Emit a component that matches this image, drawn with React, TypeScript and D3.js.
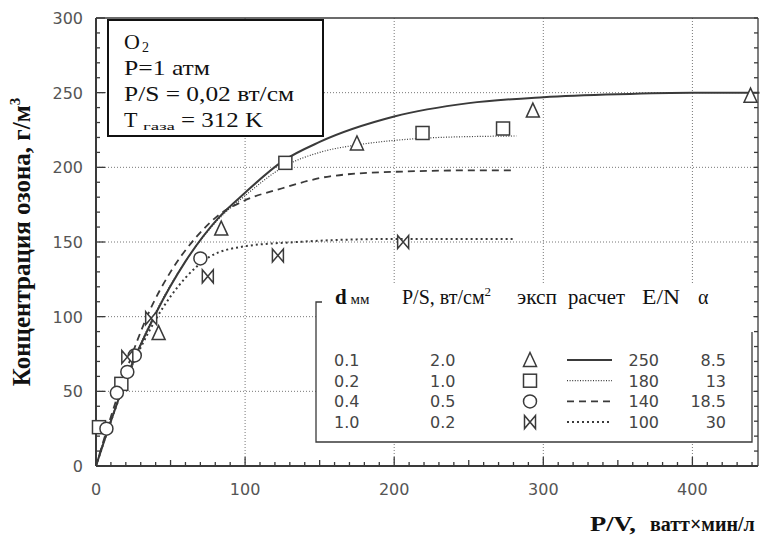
import React from "react";
import * as d3 from "d3";

// values
const xTicks = [0, 100, 200, 300, 400];
const yTicks = [0, 50, 100, 150, 200, 250, 300];
const gridX = [100, 200, 300, 400];
const gridY = [50, 100, 150, 200, 250];

// calculated curves, [P/V, concentration]
const curveD01 = [[0, 0], [10, 30], [20, 58], [40, 102], [60, 137], [82, 166], [100, 183], [125, 204], [150, 217], [200, 234], [250, 243], [300, 247], [350, 249], [400, 250], [445, 250]];
const curveD02 = [[0, 0], [10, 31], [20, 58], [40, 103], [60, 137], [80, 163], [100, 181], [127, 201], [150, 210], [175, 215], [200, 218], [230, 220], [282, 221]];
const curveD04 = [[0, 0], [10, 33], [20, 63], [36, 104], [50, 130], [67, 153], [81, 167], [98, 177], [125, 186], [157, 194], [200, 197], [258, 198], [280, 198]];
const curveD10 = [[0, 0], [10, 30], [20, 57], [40, 98], [60, 126], [76, 140], [99, 147], [135, 150], [197, 152], [280, 152]];

// experimental points
const triangles = [[42, 89], [84, 159], [175, 216], [293, 238], [439, 248]];
const squares = [[2, 26], [17, 55], [127, 203], [219, 223], [273, 226]];
const circles = [[7, 25], [14, 49], [21, 63], [26, 74], [70, 139]];
const bowties = [[21, 73], [37, 99], [75, 127], [122, 141], [206, 150]];

// legend table
const legendD = ["0.1", "0.2", "0.4", "1.0"];
const legendPS = ["2.0", "1.0", "0.5", "0.2"];
const legendEN = ["250", "180", "140", "100"];
const legendAlpha = ["8.5", "13", "18.5", "30"];
const legendMarks = ["triangle", "square", "circle", "bowtie"];

const ink = "#3a3a3a";
const serif = "'Liberation Serif', 'DejaVu Serif', serif";
const sans = "'DejaVu Sans', sans-serif";

const lineStyles = [
  { width: 2, dash: null },
  { width: 1.2, dash: "1,1.6" },
  { width: 1.8, dash: "7,5" },
  { width: 2, dash: "2,3" },
];

const Marker = ({ kind, cx, cy }) => {
  const s = 6.5;
  const common = { fill: "white", stroke: ink, strokeWidth: 1.5 };
  if (kind === "triangle")
    return <path d={`M${cx},${cy - s - 1}L${cx + s},${cy + s}L${cx - s},${cy + s}Z`} {...common} />;
  if (kind === "square")
    return <rect x={cx - s} y={cy - s} width={2 * s} height={2 * s} {...common} />;
  if (kind === "circle") return <circle cx={cx} cy={cy} r={s} {...common} />;
  return (
    <path
      d={`M${cx - s + 1},${cy - s}L${cx + s - 1},${cy + s}L${cx + s - 1},${cy - s}L${cx - s + 1},${cy + s}Z`}
      {...common}
    />
  );
};

export default function App() {
  const x = d3.scaleLinear().domain([0, 444]).range([96, 758]);
  const y = d3.scaleLinear().domain([0, 300]).range([466, 18]);

  const line = d3
    .line()
    .x((d) => x(d[0]))
    .y((d) => y(d[1]))
    .curve(d3.curveMonotoneX);

  const curves = [curveD01, curveD02, curveD04, curveD10];
  const points = [triangles, squares, circles, bowties];

  const minorX = d3.range(0, 450, 10);
  const minorY = d3.range(0, 301, 10);
  const tickLen = (v) => (v % 100 === 0 ? 9 : v % 50 === 0 ? 6 : 4);

  const rowY = (i) => 366 + i * 20.7;

  return (
    <svg width={760} height={544} style={{ position: "absolute", left: 0, top: 0, background: "white" }}>
      {/* grid */}
      <g stroke="#777" strokeWidth={1} strokeDasharray="1,2">
        {gridX.map((v) => (
          <line key={"gx" + v} x1={x(v)} x2={x(v)} y1={y(300)} y2={y(0)} />
        ))}
        {gridY.map((v) => (
          <line key={"gy" + v} x1={x(0)} x2={x(444)} y1={y(v)} y2={y(v)} />
        ))}
      </g>

      {/* frame and ticks */}
      <g stroke={ink} strokeWidth={1.3}>
        <line x1={x(0)} x2={x(444)} y1={y(0)} y2={y(0)} strokeWidth={2} />
        <line x1={x(0)} x2={x(0)} y1={y(0)} y2={y(300)} strokeWidth={2} />
        <line x1={x(0)} x2={x(444)} y1={y(300)} y2={y(300)} />
        <line x1={x(444)} x2={x(444)} y1={y(0)} y2={y(300)} />
        {minorX.map((v) => (
          <line key={"tx" + v} x1={x(v)} x2={x(v)} y1={y(0)} y2={y(0) - tickLen(v)} />
        ))}
        {minorY.map((v) => (
          <line key={"ty" + v} x1={x(0)} x2={x(0) + tickLen(v * 2)} y1={y(v)} y2={y(v)} />
        ))}
        {minorY.map((v) => (
          <line key={"tr" + v} x1={x(444)} x2={x(444) - 4} y1={y(v)} y2={y(v)} />
        ))}
      </g>

      {/* tick labels */}
      <g fontFamily={sans} fontSize={16} fill="#555">
        {xTicks.map((v) => (
          <text key={"lx" + v} x={x(v)} y={495} textAnchor="middle">
            {v}
          </text>
        ))}
        {yTicks.map((v) => (
          <text key={"ly" + v} x={83} y={y(v) + 6} textAnchor="end">
            {v}
          </text>
        ))}
      </g>

      {/* calculated curves */}
      {curves.map((c, i) => (
        <path
          key={"c" + i}
          d={line(c)}
          fill="none"
          stroke={ink}
          strokeWidth={lineStyles[i].width}
          strokeDasharray={lineStyles[i].dash || undefined}
        />
      ))}

      {/* experimental points */}
      {points.map((set, i) =>
        set.map((p, j) => <Marker key={`m${i}-${j}`} kind={legendMarks[i]} cx={x(p[0])} cy={y(p[1])} />)
      )}

      {/* conditions box */}
      <rect x={108} y={20} width={215} height={116} fill="white" stroke="#111" strokeWidth={2} />
      <g fontFamily={serif} fontSize={22} fill="#111">
        <text x={124} y={49}>O</text>
        <text x={142} y={52} fontSize={14}>2</text>
        <text x={124} y={75} textLength={86} lengthAdjust="spacingAndGlyphs">P=1 атм</text>
        <text x={124} y={101} textLength={170} lengthAdjust="spacingAndGlyphs">P/S = 0,02 вт/см</text>
        <text x={124} y={127}>T</text>
        <text x={143} y={130} fontSize={10} textLength={32} lengthAdjust="spacingAndGlyphs">газа</text>
        <text x={181} y={127} textLength={82} lengthAdjust="spacingAndGlyphs">= 312 K</text>
      </g>

      {/* legend table */}
      <rect x={316} y={284} width={436} height={158} fill="white" />
      <g stroke={ink} strokeWidth={1.3} fill="none">
        <path d="M322,302H316V442H752V332" />
      </g>
      <g fontFamily={serif} fontSize={20} fill="#111">
        <text x={335} y={304}>
          <tspan fontWeight="bold" fontSize={21}>d</tspan>
          <tspan fontSize={15}> мм</tspan>
        </text>
        <text x={402} y={304} >
          P/S, вт/см<tspan fontSize={13} dy={-8}>2</tspan>
        </text>
        <text x={517} y={304} textLength={40} lengthAdjust="spacingAndGlyphs">эксп</text>
        <text x={568} y={304} textLength={57} lengthAdjust="spacingAndGlyphs">расчет</text>
        <text x={642} y={304} textLength={38} lengthAdjust="spacingAndGlyphs">E/N</text>
        <text x={698} y={304}>α</text>
      </g>
      <g fontFamily={sans} fontSize={16} fill="#444">
        {legendD.map((t, i) => (
          <text key={"d" + i} x={334} y={rowY(i)}>
            {t}
          </text>
        ))}
        {legendPS.map((t, i) => (
          <text key={"p" + i} x={430} y={rowY(i)}>
            {t}
          </text>
        ))}
        {legendEN.map((t, i) => (
          <text key={"e" + i} x={659} y={rowY(i)} textAnchor="end">
            {t}
          </text>
        ))}
        {legendAlpha.map((t, i) => (
          <text key={"a" + i} x={726} y={rowY(i)} textAnchor="end">
            {t}
          </text>
        ))}
      </g>
      {legendMarks.map((k, i) => (
        <Marker key={"lm" + i} kind={k} cx={530} cy={rowY(i) - 6} />
      ))}
      {lineStyles.map((s, i) => (
        <line
          key={"ll" + i}
          x1={567}
          x2={612}
          y1={rowY(i) - 6}
          y2={rowY(i) - 6}
          stroke={ink}
          strokeWidth={s.width}
          strokeDasharray={s.dash || undefined}
        />
      ))}

      {/* axis titles */}
      <text
        transform="translate(30,242) rotate(-90)"
        textAnchor="middle"
        fontFamily={serif}
        fontWeight="bold"
        fontSize={25}
        fill="#111"
      >
        Концентрация озона, г/м<tspan fontSize={15} dy={-10}>3</tspan>
      </text>
      <g fontFamily={serif} fontWeight="bold" fontSize={20} fill="#111">
        <text x={590} y={531} fontSize={22} textLength={46} lengthAdjust="spacingAndGlyphs">P/V,</text>
        <text x={650} y={531}>ватт×мин/л</text>
      </g>
    </svg>
  );
}
